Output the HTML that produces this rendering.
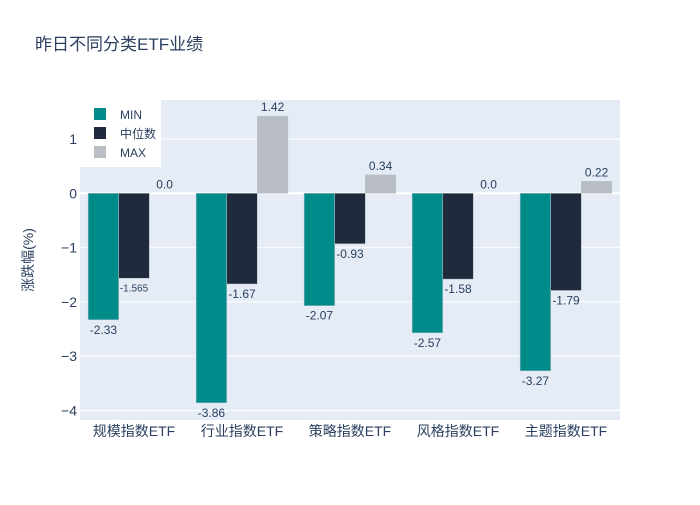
<!DOCTYPE html>
<html><head><meta charset="utf-8"><style>
body{margin:0;background:#fff;}
svg text{font-family:"Liberation Sans","Noto Sans CJK SC",sans-serif;fill:#2a3f5f;}
</style></head><body>
<svg id="c" width="700" height="500">
<rect x="0" y="0" width="700" height="500" fill="#fff"/>
<text x="35" y="50" font-size="17">昨日不同分类ETF业绩</text>
<rect x="80" y="100" width="540" height="320" fill="#e5ecf6"/>
<g id="grid"></g><g id="bars"></g><g id="labels"></g>
<text transform="translate(33,260) rotate(-90)" text-anchor="middle" font-size="14">涨跌幅(%)</text>
<g>
<rect x="80" y="100" width="81" height="67" fill="#fff"/>
<rect x="94" y="108" width="12" height="12" fill="#008b8b"/>
<text x="120" y="119" font-size="12">MIN</text>
<rect x="94" y="127" width="12" height="12" fill="#1f2a3c"/>
<text x="120" y="138" font-size="12">中位数</text>
<rect x="94" y="146" width="12" height="12" fill="#b9bec5"/>
<text x="120" y="157" font-size="12">MAX</text>
</g>
</svg>
<script>
const categories=["规模指数ETF","行业指数ETF","策略指数ETF","风格指数ETF","主题指数ETF"];
const minVals=[-2.33,-3.86,-2.07,-2.57,-3.27];
const medVals=[-1.565,-1.67,-0.93,-1.58,-1.79];
const maxVals=[0.0,1.42,0.34,0.0,0.22];
const yTicks=[1,0,-1,-2,-3,-4];
const yTickLabels=["1","0","−1","−2","−3","−4"];
const NS="http://www.w3.org/2000/svg";
const X0=80,W=540,Y0=193.3,PU=54.3;
const y=v=>Y0-v*PU;
const band=W/categories.length;
function mk(t,a,p){const e=document.createElementNS(NS,t);for(const k in a)e.setAttribute(k,a[k]);p.appendChild(e);return e;}
const grid=document.getElementById('grid'),bars=document.getElementById('bars'),labels=document.getElementById('labels'),svg=document.getElementById('c');
yTicks.forEach((t,i)=>{
 const l=mk('line',{x1:X0,x2:X0+W,y1:y(t),y2:y(t),stroke:'#fff','stroke-width':t===0?2:1},grid);
 
 
 const tx=mk('text',{x:X0-3,y:y(t)+5,'text-anchor':'end','font-size':14},svg);
 tx.textContent=yTickLabels[i];
 
 
});
const series=[[minVals,'#008b8b','min'],[medVals,'#1f2a3c','median'],[maxVals,'#b9bec5','max']];
const gw=band*0.85,bw=gw/3;
categories.forEach((c,i)=>{
 const gx=X0+band*i+(band-gw)/2;
 series.forEach(([vals,col,nm],s)=>{
  const v=vals[i],bx=gx+s*bw;
  const top=Math.min(y(v),y(0)),h=Math.abs(y(v)-y(0));
  const r=mk('rect',{x:bx,y:top,width:bw,height:h,fill:col,stroke:'#b9c2cc','stroke-width':0.5},bars);
  
  
  const small=(String(v).length>5);
  const t=mk('text',{x:bx+bw/2,y:v>=0?y(v)-5:y(v)+(small?13:14),'text-anchor':'middle','font-size':small?10:12},labels);
  t.textContent=String(v===0?'0.0':v);
  
  
 });
 const cl=mk('text',{x:X0+band*(i+0.5),y:436,'text-anchor':'middle','font-size':14},svg);
 cl.textContent=c;
 
 
});
</script>
</body></html>
